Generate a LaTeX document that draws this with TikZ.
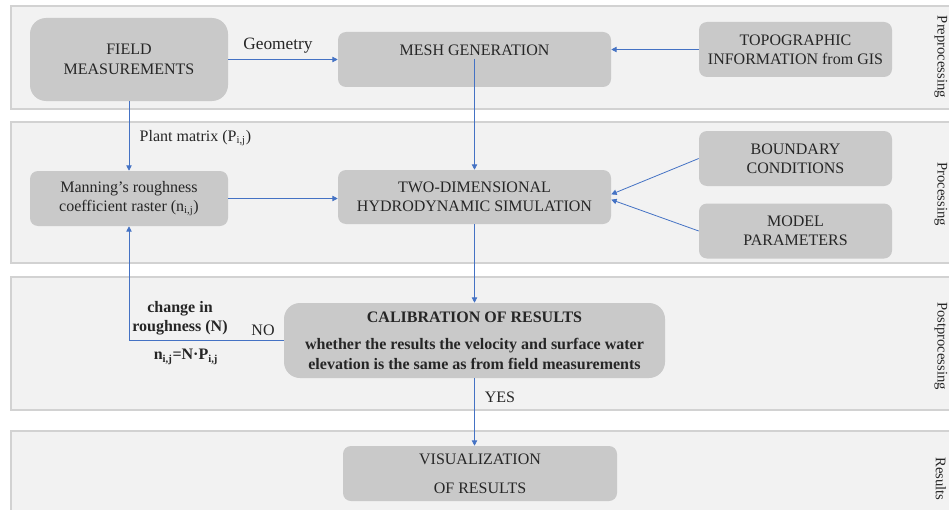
\documentclass[tikz,border=0pt]{standalone}
\usepackage{fontspec}
\setmainfont{Liberation Serif}
\usetikzlibrary{arrows.meta, positioning}

\definecolor{bandfill}{HTML}{F2F2F2}
\definecolor{bandline}{HTML}{D2D2D2}
\definecolor{boxfill}{HTML}{C9C9C9}
\definecolor{flow}{HTML}{4472C4}
\definecolor{ink}{HTML}{262626}

\begin{document}
\begin{tikzpicture}[
    x=0.75pt, y=-0.75pt,
    band/.style={draw=bandline, fill=bandfill, line width=0.8pt},
    box/.style={fill=boxfill, rounded corners=6pt, align=center, text=ink, inner sep=2pt, font=\fontsize{12}{14.5}\selectfont},
    flowline/.style={draw=flow, line width=0.6pt, -{Triangle[length=4pt, width=4pt]}},
    lbl/.style={text=ink, align=center, font=\fontsize{12}{14.5}\selectfont},
    phase/.style={rotate=-90, text=ink, font=\fontsize{11}{13}\selectfont},
]
    \useasboundingbox (0,0) rectangle (949,510);

    % phase bands
    \draw[band] (11,6) rectangle (962,109);
    \draw[band] (11,122) rectangle (962,263);
    \draw[band] (11,277) rectangle (962,410);
    \draw[band] (11,431) rectangle (962,525);

    \node[phase] (pre) at (941,57) {Preprocessing};
    \node[phase] (proc) at (941,194) {Processing};
    \node[phase] (post) at (941,346) {Postprocessing};
    \node[phase] (res) at (941,479) {Results};

    % boxes
    \node[box, rounded corners=12pt, minimum width=148.5pt, minimum height=62.25pt] (field) at (129,59.5) {FIELD\\MEASUREMENTS};
    \node[box, minimum width=204.75pt, minimum height=41.25pt] (mesh) at (474.5,59.5) {MESH GENERATION\\\mbox{}};
    \node[box, minimum width=144.75pt, minimum height=41.25pt] (topo) at (795.5,49.5) {TOPOGRAPHIC\\INFORMATION from GIS};

    \node[box, minimum width=148.5pt, minimum height=41.25pt] (manning) at (129,198.5) {Manning’s roughness\\coefficient raster (n\textsubscript{i,j})};
    \node[box, minimum width=204.75pt, minimum height=40.5pt] (twodim) at (474.5,197) {TWO-DIMENSIONAL\\HYDRODYNAMIC SIMULATION};
    \node[box, minimum width=144.75pt, minimum height=41.25pt] (bound) at (795.5,158.5) {BOUNDARY\\CONDITIONS};
    \node[box, minimum width=144.75pt, minimum height=41.25pt] (model) at (795.5,231) {MODEL\\PARAMETERS};

    \node[box, rounded corners=12pt, minimum width=285.75pt, minimum height=56.25pt, font=\fontsize{12}{14.5}\selectfont\bfseries] (calib) at (474.5,340.5) {CALIBRATION OF RESULTS\\[6pt]whether the results the velocity and surface water\\elevation is the same as from field measurements};

    \node[box, minimum width=205.5pt, minimum height=41.25pt] (vis) at (480,473.5) {VISUALIZATION\\[7pt]OF RESULTS};

    % connectors
    \draw[flowline] (field.east) -- (mesh.west);
    \draw[flowline] (topo.west) -- (topo.west -| mesh.east);
    \draw[flowline] (field.south) -- (manning.north);
    \draw[flowline] (mesh.center) -- (twodim.north);
    \draw[flowline] (manning.east) -- (manning.east -| twodim.west);
    \draw[flowline] (bound.west) -- ([yshift=2pt]twodim.east);
    \draw[flowline] (model.west) -- ([yshift=-2pt]twodim.east);
    \draw[flowline] (twodim.south) -- (calib.north);
    \draw[flowline] (calib.west) -| (manning.south);
    \draw[flowline] (calib.south) -- (calib.south |- vis.north);

    % connector labels
    \node[lbl, font=\fontsize{13}{15}\selectfont] (geo) at (278,46) {Geometry};
    \node[lbl, anchor=west] (plant) at (135,138) {Plant matrix (P\textsubscript{i,j})};
    \node[lbl] (no) at (263,330) {NO};
    \node[lbl, font=\fontsize{12}{14.5}\selectfont\bfseries] (change) at (180,318) {change in\\roughness (N)};
    \node[lbl, font=\fontsize{12}{14.5}\selectfont\bfseries] (formula) at (186,357) {n\textsubscript{i,j}=N·P\textsubscript{i,j}};
    \node[lbl] (yes) at (500,397) {YES};
\end{tikzpicture}
\end{document}
